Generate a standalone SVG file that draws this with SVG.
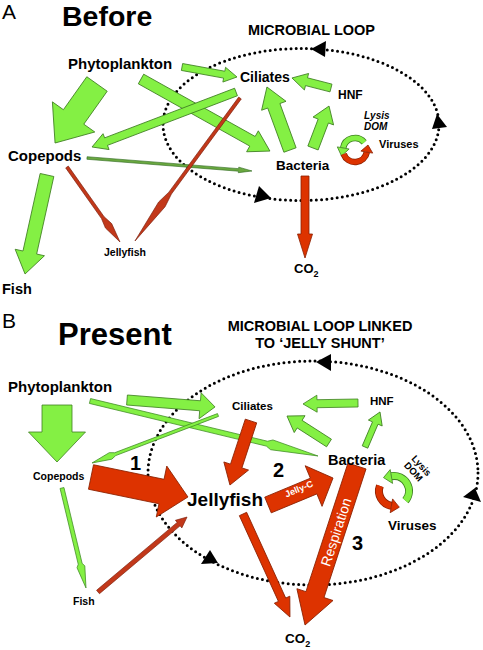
<svg xmlns="http://www.w3.org/2000/svg" width="483" height="650" viewBox="0 0 483 650">
<style>
text{font-family:"Liberation Sans",Arial,sans-serif;fill:#000}
.b{font-weight:bold}
.loop{fill:none;stroke:#000;stroke-width:3;stroke-linecap:round;stroke-dasharray:0 5.2}
.g{fill:#84f044;stroke:#3f7f22;stroke-width:0.8}
.gt{fill:#84f044;stroke:#3f8a25;stroke-width:0.7}
.gd{fill:#6aa840;stroke:#2f6a1f;stroke-width:0.6}
.r{fill:#dd3300;stroke:#8a2000;stroke-width:0.8}
.rt{fill:#c2381a;stroke:#7a1d0a;stroke-width:0.6}
.hd{fill:#000}
.w{fill:#fff}
</style>
<rect width="483" height="650" fill="#fff"/>

<!-- Panel A -->
<g id="panelA-loop">
<ellipse class="loop" cx="301" cy="124.5" rx="138" ry="76"/>
<polygon class="hd" points="311,49 326,41 325,57"/>
<polygon class="hd" points="432,129 437,114 447,127"/>
<polygon class="hd" points="254,203 259,186 271,198"/>
</g>

<g id="connectorsA">
<polygon class="g" points="0,-3.5 42.9,-3.5 42.9,-7.5 55.9,0 42.9,7.5 42.9,3.5 0,3.5" transform="translate(182,67) rotate(10.3)"/>
<polygon class="g" points="0,-12.5 40.4,-12.5 40.4,-26 72.4,0 40.4,26 40.4,12.5 0,12.5" transform="translate(97,84) rotate(125.4)"/>
<polygon class="g" points="0,-5.5 127.7,-5.5 127.7,-12 147.7,0 127.7,12 127.7,5.5 0,5.5" transform="translate(141,79) rotate(29.2)"/>
<polygon class="g" points="0,-4 139.1,-4 139.1,-8.5 154.1,0 139.1,8.5 139.1,4 0,4" transform="translate(236,92) rotate(159.1)"/>
<polygon class="g" points="0,-6.5 47.1,-6.5 47.1,-13 67.1,0 47.1,13 47.1,6.5 0,6.5" transform="translate(290,150) rotate(-110.1)"/>
<polygon class="g" points="0,-5.5 28.9,-5.5 28.9,-11 44.9,0 28.9,11 28.9,5.5 0,5.5" transform="translate(313,148) rotate(-69.1)"/>
<polygon class="g" points="0,-4 25.3,-4 25.3,-8.5 40.3,0 25.3,8.5 25.3,4 0,4" transform="translate(331,88) rotate(-165.6)"/>
<polygon class="g" points="0,-7 79.4,-7 79.4,-15 101.4,0 79.4,15 79.4,7 0,7" transform="translate(47,175) rotate(102.5)"/>
<polygon class="gd" points="0,-1.3 152,-1.3 152,-2.8 165.5,0 152,2.8 152,1.3 0,1.3" transform="translate(87,158) rotate(4.5)"/>
<polygon class="rt" points="0,-1.6 118,-1.6 132,-4 177.4,0 132,4 118,1.6 0,1.6" transform="translate(240,98) rotate(126.3)"/>
<polygon class="rt" points="0,-1.6 62,-1.6 72,-3.8 91.8,0 72,3.8 62,1.6 0,1.6" transform="translate(67,167) rotate(54.75)"/>
<polygon class="r" points="0,-4 58,-4 58,-7.5 82,0 58,7.5 58,4 0,4" transform="translate(305,176) rotate(90)"/>
<!-- viral cycle -->
<path d="M364.2,142.3 A12,12 0 0 0 343.2,147.9" fill="none" stroke="#3f7f22" stroke-width="6.5"/>
<path d="M364.2,142.3 A12,12 0 0 0 343.2,147.9" fill="none" stroke="#84f044" stroke-width="5"/>
<polygon class="g" points="349.1,149 337.3,146.9 341.5,156"/>
<path d="M343.7,154.1 A12,12 0 0 0 366.8,152.1" fill="none" stroke="#8a2000" stroke-width="6.5"/>
<path d="M343.7,154.1 A12,12 0 0 0 366.8,152.1" fill="none" stroke="#dd3300" stroke-width="5"/>
<polygon class="r" points="372.7,153.1 360.9,151.1 368,145"/>
</g>

<g id="labelsA">
<text x="2" y="19" font-size="21">A</text>
<text class="b" x="62" y="26" font-size="28.5">Before</text>
<text class="b" x="248" y="35" font-size="14.5">MICROBIAL LOOP</text>
</g>
<g id="phytoA"><text class="b" x="68" y="69" font-size="15">Phytoplankton</text></g>
<g id="ciliatesA"><text class="b" x="240" y="82" font-size="14">Ciliates</text></g>
<g id="hnfA"><text class="b" x="338" y="99" font-size="12">HNF</text></g>
<g id="lysisA"><text class="b" x="364" y="119" font-size="10" font-style="italic">Lysis</text><text class="b" x="364" y="130" font-size="10" font-style="italic">DOM</text></g>
<g id="virusesA"><text class="b" x="379" y="148" font-size="11">Viruses</text></g>
<g id="bacteriaA"><text class="b" x="276" y="170" font-size="13.5">Bacteria</text></g>
<g id="co2A"><text class="b" x="294" y="273" font-size="13">CO<tspan font-size="9" dy="4">2</tspan></text></g>
<g id="copepodsA"><text class="b" x="8" y="161" font-size="15">Copepods</text></g>
<g id="jellyfishA"><text class="b" x="104" y="256" font-size="10.5">Jellyfish</text></g>
<g id="fishA"><text class="b" x="2" y="294" font-size="14.5">Fish</text></g>

<!-- Panel B -->
<g id="panelB-loop">
<ellipse class="loop" cx="313" cy="473" rx="165" ry="112"/>
<polygon class="hd" points="316,362 331,354 331,371"/>
<polygon class="hd" points="463,497 475,488 481,502"/>
<polygon class="hd" points="210,550 201,564 218,563"/>
</g>

<g id="connectorsB">
<polygon class="g" points="0,-15 27,-15 27,-28.5 57,0 27,28.5 27,15 0,15" transform="translate(57,405) rotate(90)"/>
<polygon class="g" points="0,-5 73.3,-5 73.3,-13 88.3,0 73.3,13 73.3,5 0,5" transform="translate(127,400) rotate(4.5)"/>
<polygon class="gt" points="0,-2.5 182,-2.5 187,-5 234.5,0 187,5 182,2.5 0,2.5" transform="translate(90,401) rotate(13.56)"/>
<polygon class="gt" points="0,-1.5 110,-1.5 115,-3.5 134.8,0 115,3.5 110,1.5 0,1.5" transform="translate(218,415) rotate(159.15)"/>
<polygon class="g" points="0,-4.5 34.9,-4.5 34.9,-10 49.9,0 34.9,10 34.9,4.5 0,4.5" transform="translate(329,443) rotate(-147.3)"/>
<polygon class="g" points="0,-3 26.1,-3 26.1,-7.5 38.1,0 26.1,7.5 26.1,3 0,3" transform="translate(365,447) rotate(-66.8)"/>
<polygon class="g" points="0,-4 41,-4 41,-8.5 55,0 41,8.5 41,4 0,4" transform="translate(358,403) rotate(179)"/>
<polygon class="gt" points="0,-2 78,-2 81,-4 102.8,0 81,4 78,2 0,2" transform="translate(62,488) rotate(76.5)"/>
<polygon class="r" points="0,-6 47.4,-6 47.4,-13 67.4,0 47.4,13 47.4,6 0,6" transform="translate(251,421) rotate(108.2)"/>
<polygon class="r" points="0,-12.5 72,-12.5 72,-26 99,0 72,26 72,12.5 0,12.5" transform="translate(91,477) rotate(11.65)"/>
<polygon class="rt" points="0,-2.25 105.4,-2.25 105.4,-5 116.4,0 105.4,5 105.4,2.25 0,2.25" transform="translate(98,592) rotate(-40.1)"/>
<polygon class="r" points="0,-8.5 49.4,-8.5 49.4,-22 70.4,0 49.4,22 49.4,8.5 0,8.5" transform="translate(268,505) rotate(-22.55)"/>
<polygon class="r" points="0,-9.5 135.3,-9.5 135.3,-19 167.3,0 135.3,19 135.3,9.5 0,9.5" transform="translate(357,466) rotate(108.1)"/>
<polygon class="r" points="0,-4 94.2,-4 94.2,-8.5 113.2,0 94.2,8.5 94.2,4 0,4" transform="translate(243,514) rotate(65.5)"/>
<!-- viral cycle -->
<path d="M405.5,500.6 A15,15 0 0 0 391.4,476.2" fill="none" stroke="#3f7f22" stroke-width="8"/>
<path d="M405.5,500.6 A15,15 0 0 0 391.4,476.2" fill="none" stroke="#84f044" stroke-width="6.4"/>
<polygon class="g" points="392.6,483.4 390.2,469.6 383.5,477.6"/>
<path d="M379.9,485.9 A15,15 0 0 0 391.4,505.8" fill="none" stroke="#8a2000" stroke-width="8"/>
<path d="M379.9,485.9 A15,15 0 0 0 391.4,505.8" fill="none" stroke="#dd3300" stroke-width="6.4"/>
<polygon class="r" points="390.2,512.7 392.6,498.9 399.3,507.2"/>
<text class="b w" font-size="9" text-anchor="middle" transform="translate(299,489) rotate(-22.5)" y="3">Jelly-C</text>
<text class="w" font-size="14" text-anchor="middle" transform="translate(336,532) rotate(-71.9)" y="5">Respiration</text>
</g>

<g id="labelsB">
<text x="2" y="328" font-size="21">B</text>
<text class="b" x="58" y="345" font-size="31">Present</text>
<text class="b" x="320" y="331" font-size="14.5" text-anchor="middle">MICROBIAL LOOP LINKED</text>
<text class="b" x="320" y="348" font-size="14.5" text-anchor="middle">TO ‘JELLY SHUNT’</text>
<text class="b" x="130" y="470" font-size="20">1</text>
<text class="b" x="273" y="477" font-size="20">2</text>
<text class="b" x="352" y="550" font-size="20">3</text>
</g>
<g id="phytoB"><text class="b" x="8" y="392" font-size="15">Phytoplankton</text></g>
<g id="copepodsB"><text class="b" x="33" y="480" font-size="10.5">Copepods</text></g>
<g id="fishB"><text class="b" x="73" y="605" font-size="10.5">Fish</text></g>
<g id="ciliatesB"><text class="b" x="232" y="410" font-size="11.5">Ciliates</text></g>
<g id="hnfB"><text class="b" x="370" y="405" font-size="11.5">HNF</text></g>
<g id="bacteriaB"><text class="b" x="328" y="465" font-size="14.5">Bacteria</text></g>
<g id="lysisB"><text class="b" font-size="9.5" transform="translate(411,459) rotate(48)">Lysis</text><text class="b" font-size="9.5" transform="translate(403.6,465.7) rotate(48)">DOM</text></g>
<g id="virusesB"><text class="b" x="388" y="530" font-size="13.5">Viruses</text></g>
<g id="jellyfishB"><text class="b" x="187" y="506" font-size="19">Jellyfish</text></g>
<g id="co2B"><text class="b" x="285" y="643" font-size="13.5">CO<tspan font-size="9" dy="4">2</tspan></text></g>
</svg>
